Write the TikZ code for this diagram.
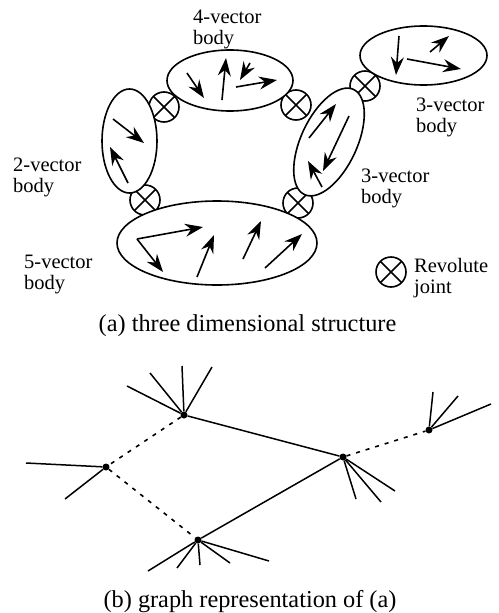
\documentclass[tikz,border=0pt]{standalone}
\usepackage{fontspec}
\setmainfont{Liberation Serif}
\usetikzlibrary{shapes,arrows.meta,positioning}

\begin{document}
\begin{tikzpicture}[
    x=1pt, y=-1pt,
    font=\fontsize{20.5}{21}\selectfont,
    body/.style={ellipse, draw, line width=1.6pt, fill=white, inner sep=0pt},
    joint/.style={circle, draw, line width=1.6pt, fill=white, inner sep=0pt, minimum size=30pt,
        path picture={\draw[line width=1.6pt] (path picture bounding box.south west) -- (path picture bounding box.north east)
            (path picture bounding box.north west) -- (path picture bounding box.south east);}},
    vec/.style={-{Stealth[length=18pt,width=13pt,inset=6pt]}, line width=1.6pt},
    lab/.style={anchor=west, align=left, inner sep=0pt},
    caption/.style={anchor=base, inner sep=0pt, font=\fontsize{24.3}{26}\selectfont},
    hub/.style={circle, fill=black, inner sep=0pt, minimum size=7pt},
    spoke/.style={line width=1.5pt},
    link/.style={line width=1.6pt, dash pattern=on 4pt off 6pt}
]
    \useasboundingbox (0,0) rectangle (498,613);

    \node[joint] (j1) at (164,107) {};
    \node[joint] (j2) at (145,200) {};
    \node[joint] (j3) at (296,105) {};
    \node[joint] (j4) at (298,203) {};
    \node[joint] (j5) at (365,86) {};

    \node[body, minimum width=126pt, minimum height=61pt] (four) at (230,80.5) {};
    \node[body, minimum width=55pt, minimum height=104pt] (two) at (129.5,141) {};
    \node[body, minimum width=200pt, minimum height=84pt] (five) at (217,243) {};
    \node[body, minimum width=116pt, minimum height=56pt, rotate=-115] (threea) at (329,142) {};
    \node[body, minimum width=127pt, minimum height=59pt] (threeb) at (423.5,55.5) {};

    \foreach \name/\xa/\ya/\xb/\yb in {
        a/187/73/204/98, b/222/100/226/58, c/250/63/240/80, d/236/87/277/80,
        e/113/119/144/143, f/128/183/110/147,
        g/137/239/203/227, h/137/239/163/272, i/197/277/214/235, k/243/259/261/221, l/265/268/302/234,
        m/309/138/336/104, n/349/116/323/171, o/322/187/308/161,
        p/399/36/396/75, q/430/52/449/36, r/407/59/461/69} {
        \coordinate (\name t) at (\xa,\ya);
        \coordinate (\name h) at (\xb,\yb);
        \draw[vec] (\name t) -- (\name h);
    }

    \node[lab] (fourlab) at (193,29) {4-vector\\body};
    \node[lab] (twolab) at (13,177.5) {2-vector\\body};
    \node[lab] (fivelab) at (24,274.5) {5-vector\\body};
    \node[lab] (threealab) at (361,188.5) {3-vector\\body};
    \node[lab] (threeblab) at (416,117.5) {3-vector\\body};
    \node[joint] (legend) at (391,272) {};
    \node[lab] (legendlab) at (414,278.5) {Revolute\\joint};
    \node[caption] (capa) at (247.5,331) {(a) three dimensional structure};

    \node[hub] (n1) at (184,415) {};
    \node[hub] (n2) at (343,457) {};
    \node[hub] (n3) at (429,430) {};
    \node[hub] (n4) at (106,467) {};
    \node[hub] (n5) at (198,540) {};

    \draw[spoke] (n1) -- (n2);
    \draw[spoke] (n2) -- (n5);
    \draw[link] (n1) -- (n4);
    \draw[link] (n4) -- (n5);
    \draw[link] (n2) -- (n3);

    \foreach \from/\name/\x/\y in {
        n1/s1/127/386, n1/s2/150/373, n1/s3/182/366, n1/s4/212/367,
        n2/s5/356/499, n2/s6/381/502, n2/s7/395/491,
        n3/s8/433/392, n3/s9/458/396, n3/s10/491/404,
        n4/s11/26/463, n4/s12/65/499,
        n5/s13/148/571, n5/s14/177/568, n5/s15/200/565, n5/s16/230/563, n5/s17/269/561} {
        \coordinate (\name) at (\x,\y);
        \draw[spoke] (\from) -- (\name);
    }

    \node[caption] (capb) at (250,607) {(b) graph representation of (a)};
\end{tikzpicture}
\end{document}
